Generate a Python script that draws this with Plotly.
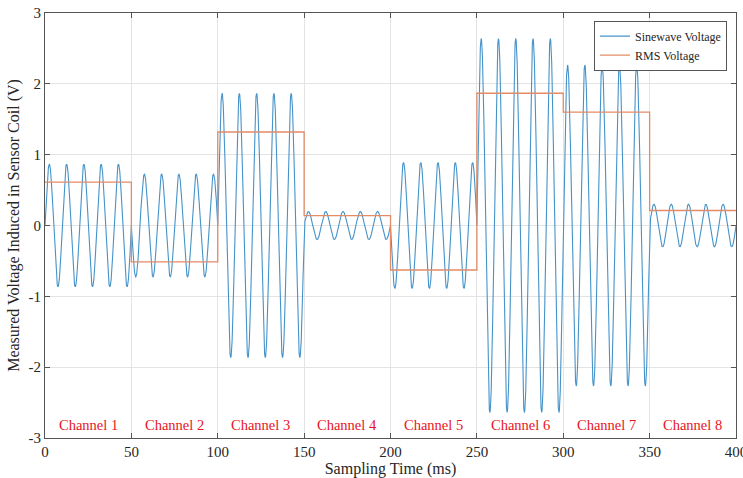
import numpy as np
import plotly.graph_objects as go

# Channel data
channels = ["Channel 1", "Channel 2", "Channel 3", "Channel 4",
            "Channel 5", "Channel 6", "Channel 7", "Channel 8"]
channel_start_ms = [0, 50, 100, 150, 200, 250, 300, 350]
channel_end_ms = [50, 100, 150, 200, 250, 300, 350, 400]
peak_amplitude_v = [0.865, -0.725, 1.866, 0.198, -0.888, 2.64, 2.266, 0.30]
rms_voltage_v = [0.612, -0.513, 1.32, 0.14, -0.628, 1.867, 1.602, 0.212]
signal_freq_hz = 100

x_ticks = [0, 50, 100, 150, 200, 250, 300, 350, 400]
x_tick_text = ["0", "50", "100", "150", "200", "250", "300", "350", "400"]
y_ticks = [-3, -2, -1, 0, 1, 2, 3]
y_tick_text = ["-3", "-2", "-1", "0", "1", "2", "3"]

FONT = "Liberation Serif, Times New Roman, serif"

# Build sine trace (per channel amplitude)
t_all, v_all = [], []
for s, e, a in zip(channel_start_ms, channel_end_ms, peak_amplitude_v):
    t = np.linspace(s, e, 1001)
    v = a * np.sin(2 * np.pi * signal_freq_hz * t / 1000.0)
    t_all.extend(t.tolist())
    v_all.extend(v.tolist())

# Build step RMS trace
rt, rv = [], []
for s, e, r in zip(channel_start_ms, channel_end_ms, rms_voltage_v):
    rt += [s, e]
    rv += [r, r]

fig = go.Figure()
fig.add_trace(go.Scatter(x=t_all, y=v_all, mode="lines", name="Sinewave Voltage",
                         line=dict(color="#4593c9", width=1.1)))
fig.add_trace(go.Scatter(x=rt, y=rv, mode="lines", name="RMS Voltage",
                         line=dict(color="#e38b66", width=1.3)))

for name, s, e in zip(channels, channel_start_ms, channel_end_ms):
    fig.add_annotation(x=(s + e) / 2, y=-2.82, text=name, showarrow=False,
                       font=dict(family=FONT, size=14.5, color="#e8141c"),
                       xanchor="center", yanchor="middle")

axis_common = dict(showline=True, linecolor="#555555", linewidth=1,
                   mirror="ticks", ticks="inside", ticklen=5, tickcolor="#555555",
                   showgrid=True, gridcolor="#e3e3e3", gridwidth=1,
                   zeroline=False, automargin=False, ticklabeloverflow="allow",
                   tickfont=dict(family=FONT, size=15, color="#262626"))

fig.update_layout(
    width=743, height=478,
    margin=dict(l=45, r=7, t=13, b=40),
    paper_bgcolor="white", plot_bgcolor="white",
    font=dict(family=FONT, color="#262626"),
    xaxis=dict(range=[0, 400], tickvals=x_ticks, ticktext=x_tick_text, **axis_common,
               title=dict(text="Sampling Time (ms)", font=dict(family=FONT, size=16),
                          standoff=2)),
    yaxis=dict(range=[-3, 3], tickvals=y_ticks, ticktext=y_tick_text, **axis_common,
               title=dict(text="Measured Voltage Induced in Sensor Coil (V)",
                          font=dict(family=FONT, size=16), standoff=4)),
    legend=dict(x=0.987, y=0.982, xanchor="right", yanchor="top",
                bgcolor="white", bordercolor="#555555", borderwidth=1,
                font=dict(family=FONT, size=12, color="#262626"),
                tracegroupgap=0, itemwidth=30),
    showlegend=True,
)

fig.write_html("out.html", config={"displayModeBar": False})

# remove default page margin so the figure sits at the window's top-left corner
with open("out.html", "r", encoding="utf-8") as f:
    html = f.read()
html = html.replace("<body>", '<body style="margin:0;padding:0;overflow:hidden">', 1)
with open("out.html", "w", encoding="utf-8") as f:
    f.write(html)
